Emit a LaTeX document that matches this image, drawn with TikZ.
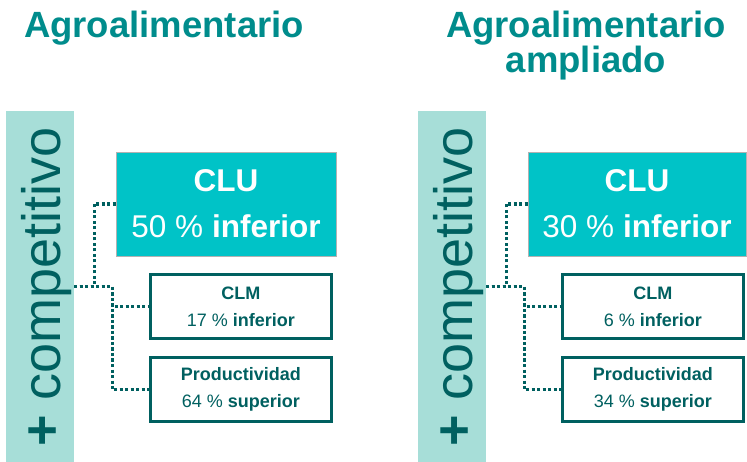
\documentclass[tikz,border=0pt]{standalone}
\usepackage{fontspec}
\setmainfont{Liberation Sans}
\usetikzlibrary{positioning}
\definecolor{titleteal}{HTML}{008C8C}
\definecolor{bandteal}{HTML}{A7DED8}
\definecolor{darkteal}{HTML}{006060}
\definecolor{cluteal}{HTML}{00C3C7}
\tikzset{
  headline/.style={
    text=titleteal,
    font=\fontsize{36.5}{35}\selectfont\bfseries,
    inner sep=0pt,
    align=center},
  band/.style={
    rectangle,
    fill=bandteal,
    minimum width=68pt,
    minimum height=351pt},
  sidelabel/.style={
    rotate=90,
    anchor=base west,
    inner sep=0pt,
    text=darkteal,
    font=\fontsize{54}{54}\selectfont},
  clubox/.style={
    rectangle,
    fill=cluteal,
    % thin grey edge
    draw=black!30, thin,
    text=white,
    minimum width=220pt,
    minimum height=104pt,
    inner sep=0pt,
    align=center,
    font=\fontsize{31.5}{46}\selectfont},
  smallbox/.style={
    rectangle,
    fill=white,
    draw=darkteal, line width=3pt,
    text=darkteal,
    minimum width=181pt,
    minimum height=64pt,
    inner sep=0pt,
    align=center,
    font=\fontsize{18}{27}\selectfont},
  dotline/.style={draw=darkteal, line width=3.4pt, dash pattern=on 3.2pt off 2.3pt},
}

\begin{document}
\begin{tikzpicture}[x=1pt, y=-1pt]
     \useasboundingbox (0,0) rectangle (747,462);
     % Agroalimentario
     \node[headline, anchor=base] (Titlea) at (164,38) {Agroalimentario};
     \node[band] (Banda) at (40,286.5) {};
     \node[sidelabel] (Compa) at (60,447) {\textbf{+} competitivo};
     \node[clubox] (CLUa) at (226,204) {\textbf{CLU}\\50 \% \textbf{inferior}};
     \node[smallbox, below right=17pt and 33pt of CLUa.south west] (CLMa) {\textbf{CLM}\\17 \% \textbf{inferior}};
     \node[smallbox, below=16pt of CLMa] (Proda) {\textbf{Productividad}\\64 \% \textbf{superior}};
     \draw[dotline] (Banda.east) -- ++(20,0) |- (CLUa.west);
     \draw[dotline] (Banda.east) -- ++(38,0) |- (CLMa.west);
     \draw[dotline] (Banda.east) -- ++(38,0) |- (Proda.west);
     % Agroalimentario ampliado
     \node[headline] (Titleb) at (586,46) {Agroalimentario\\ampliado};
     \node[band] (Bandb) at (452,286.5) {};
     \node[sidelabel] (Compb) at (472,447) {\textbf{+} competitivo};
     \node[clubox, minimum width=218pt] (CLUb) at (637,204) {\textbf{CLU}\\30 \% \textbf{inferior}};
     \node[smallbox, below right=17pt and 33pt of CLUb.south west] (CLMb) {\textbf{CLM}\\6 \% \textbf{inferior}};
     \node[smallbox, below=16pt of CLMb] (Prodb) {\textbf{Productividad}\\34 \% \textbf{superior}};
     \draw[dotline] (Bandb.east) -- ++(20,0) |- (CLUb.west);
     \draw[dotline] (Bandb.east) -- ++(38,0) |- (CLMb.west);
     \draw[dotline] (Bandb.east) -- ++(38,0) |- (Prodb.west);
\end{tikzpicture}
\end{document}
